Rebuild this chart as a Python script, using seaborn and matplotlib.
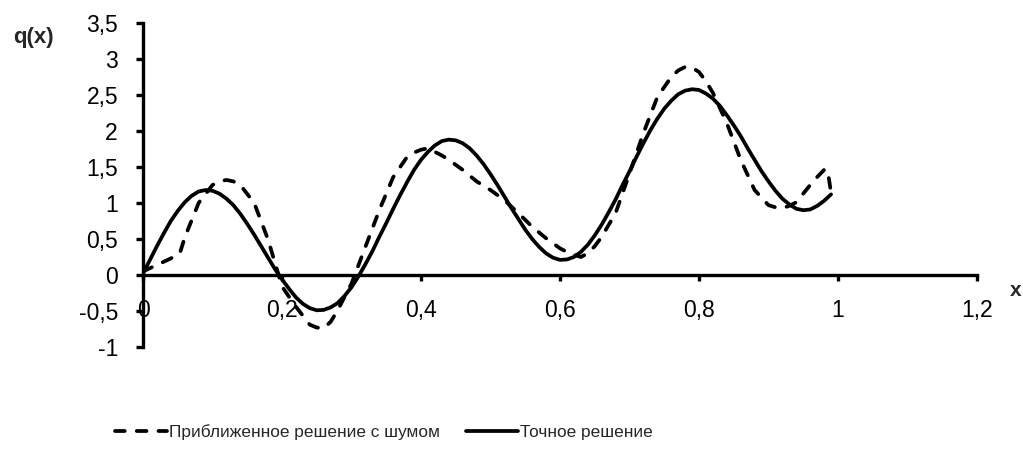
import numpy as np
import pandas as pd
import matplotlib
matplotlib.use("Agg")
import matplotlib.pyplot as plt
from matplotlib.ticker import FixedLocator, FixedFormatter
import seaborn as sns

# Exact solution q(x), sampled every 0.01 on [0, 0.99]
x_exact = np.round(np.linspace(0.0, 0.99, 100), 2)
q_exact = [0.02, 0.21, 0.40, 0.58, 0.75, 0.89, 1.01, 1.10, 1.16, 1.18,
           1.17, 1.13, 1.06, 0.97, 0.85, 0.71, 0.56, 0.40, 0.24, 0.08,
           -0.06, -0.19, -0.31, -0.40, -0.46, -0.49, -0.485, -0.45, -0.39, -0.29,
           -0.17, -0.02, 0.15, 0.33, 0.53, 0.72, 0.92, 1.11, 1.29, 1.46,
           1.60, 1.71, 1.80, 1.86, 1.88, 1.87, 1.83, 1.76, 1.66, 1.54,
           1.40, 1.25, 1.09, 0.93, 0.78, 0.63, 0.50, 0.39, 0.30, 0.24,
           0.21, 0.216, 0.25, 0.32, 0.42, 0.55, 0.70, 0.87, 1.05, 1.25,
           1.44, 1.64, 1.83, 2.01, 2.17, 2.31, 2.42, 2.51, 2.56, 2.58,
           2.57, 2.52, 2.45, 2.35, 2.22, 2.08, 1.93, 1.76, 1.60, 1.44,
           1.30, 1.17, 1.06, 0.98, 0.92, 0.90, 0.91, 0.96, 1.03, 1.12]

# Approximate solution with noise
x_noisy = [0.00, 0.02, 0.04, 0.053, 0.06, 0.08, 0.10, 0.11, 0.12, 0.13,
           0.14, 0.16, 0.18, 0.20, 0.22, 0.24, 0.25, 0.26, 0.27, 0.28,
           0.30, 0.32, 0.34, 0.36, 0.38, 0.39, 0.40, 0.41, 0.42, 0.43,
           0.44, 0.46, 0.48, 0.50, 0.52, 0.54, 0.56, 0.58, 0.60, 0.61,
           0.62, 0.63, 0.64, 0.65, 0.66, 0.68, 0.70, 0.72, 0.74, 0.76,
           0.77, 0.78, 0.79, 0.80, 0.81, 0.82, 0.84, 0.86, 0.88, 0.90,
           0.91, 0.92, 0.93, 0.94, 0.96, 0.97, 0.98, 0.985, 0.99]
q_noisy = [0.05, 0.14, 0.23, 0.30, 0.52, 1.00, 1.25, 1.30, 1.32, 1.30,
           1.25, 1.00, 0.49, -0.16, -0.44, -0.69, -0.73, -0.74, -0.65, -0.49,
           -0.12, 0.39, 0.90, 1.36, 1.64, 1.70, 1.74, 1.76, 1.71, 1.66,
           1.60, 1.46, 1.30, 1.18, 1.04, 0.86, 0.67, 0.51, 0.37, 0.32,
           0.28, 0.25, 0.30, 0.40, 0.53, 0.86, 1.41, 1.97, 2.47, 2.75,
           2.84, 2.89, 2.88, 2.82, 2.69, 2.53, 2.11, 1.60, 1.18, 0.97,
           0.94, 0.93, 0.96, 1.01, 1.25, 1.36, 1.46, 1.46, 1.14]

series_noisy = "Приближенное решение с шумом"
series_exact = "Точное решение"

x_ticks = [0, 0.2, 0.4, 0.6, 0.8, 1.0, 1.2]
x_tick_labels = ["0", "0,2", "0,4", "0,6", "0,8", "1", "1,2"]
y_ticks = [-1, -0.5, 0, 0.5, 1, 1.5, 2, 2.5, 3, 3.5]
y_tick_labels = ["-1", "-0,5", "0", "0,5", "1", "1,5", "2", "2,5", "3", "3,5"]

df = pd.concat([
    pd.DataFrame({"x": x_noisy, "q": q_noisy, "series": series_noisy}),
    pd.DataFrame({"x": x_exact, "q": q_exact, "series": series_exact}),
], ignore_index=True)

sns.set_theme(style="white")
plt.rcParams["font.family"] = ["Liberation Sans", "DejaVu Sans"]

LW = 2.7
DASH = (2.6, 3.2)

fig = plt.figure(figsize=(10.23, 4.55), dpi=100)
ax = fig.add_axes([143 / 1023, 1 - 347 / 455, (977 - 143) / 1023, (347 - 23) / 455])

sns.lineplot(data=df, x="x", y="q", style="series",
             dashes={series_noisy: DASH, series_exact: ""},
             color="black", linewidth=LW, estimator=None, sort=False,
             legend=False, ax=ax)
for line in ax.lines:
    line.set_dash_capstyle("round")
    line.set_solid_capstyle("round")

ax.set_xlim(0, 1.2)
ax.set_ylim(-1, 3.5)
ax.set_xlabel("")
ax.set_ylabel("")

for side in ("top", "right"):
    ax.spines[side].set_visible(False)
ax.spines["bottom"].set_position(("data", 0))
for side in ("left", "bottom"):
    ax.spines[side].set_linewidth(2.4)
    ax.spines[side].set_color("black")
    ax.spines[side].set_capstyle("projecting")

ax.xaxis.set_major_locator(FixedLocator(x_ticks))
ax.xaxis.set_major_formatter(FixedFormatter(x_tick_labels))
ax.yaxis.set_major_locator(FixedLocator(y_ticks))
ax.yaxis.set_major_formatter(FixedFormatter(y_tick_labels))
ax.tick_params(axis="x", direction="out", length=4, width=2.4, pad=13,
               labelsize=16.5, colors="black", bottom=True)
ax.tick_params(axis="y", direction="out", length=5, width=2.4, pad=13,
               labelsize=16.5, colors="black", left=True)
ax.grid(False)

fig.text(33 / 1023, 1 - 38 / 455, "q(x)", fontsize=16, fontweight="bold",
         ha="center", va="center")
fig.text(1016 / 1023, 1 - 290 / 455, "x", fontsize=15, fontweight="bold",
         ha="center", va="center")

handles = [
    plt.Line2D([], [], color="black", linewidth=LW, dashes=DASH,
               dash_capstyle="round"),
    plt.Line2D([], [], color="black", linewidth=LW),
]
fig.legend(handles, [series_noisy, series_exact], loc="center",
           bbox_to_anchor=(384 / 1023, 1 - 432 / 455), ncol=2, frameon=False,
           prop={"size": 12.4},
           handlelength=3.0, handletextpad=0.12, columnspacing=1.5)

fig.savefig("out.png", dpi=100, facecolor="white")
